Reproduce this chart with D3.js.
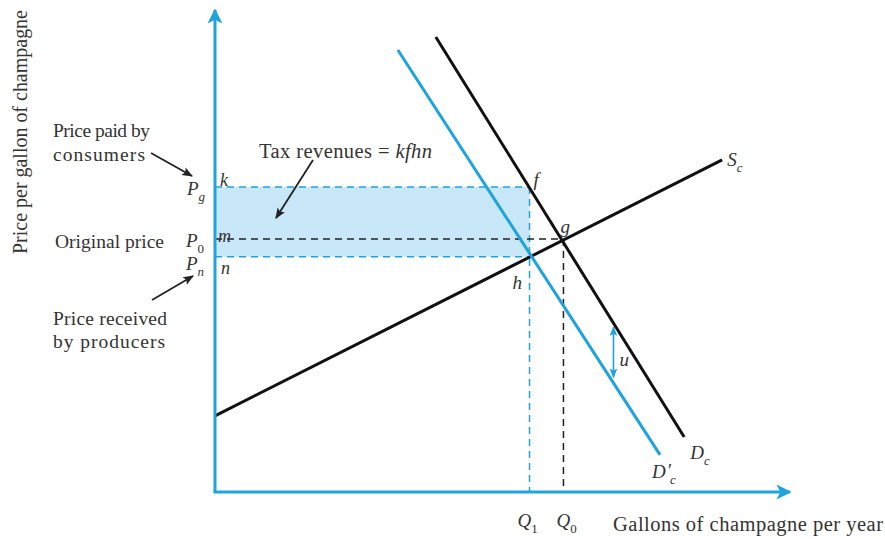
<html>
<script src="https://d3js.org/d3.v7.min.js"></script>
<style>
body { margin: 0; background: #fff; }
</style>
<body>
<svg id="chart"></svg>
<script>
// curves as two end points (quantity, price) in chart units 0..100
var supply = [{q: 0, p: 15.8}, {q: 88.2, p: 68.9}];
var demand = [{q: 38.4, p: 94.4}, {q: 81.6, p: 11.4}];
var demandTax = [{q: 31.8, p: 91.7}, {q: 77.4, p: 7.7}];

// price and quantity levels
var priceLevels = {Pg: 63.3, P0: 52.5, Pn: 48.8};
var qtyLevels = {Q1: 54.7, Q0: 60.6};
var taxArrow = {q: 69.3, top: 34.2, bottom: 23.8};

const width = 885, height = 539;
const blue = "#1ea3df";
const fillBlue = "#c8e7f8";
const serif = "'Liberation Serif', 'Times New Roman', 'DejaVu Serif', serif";

const svg = d3.select("#chart").attr("width", width).attr("height", height)
    .attr("font-family", serif);

const x = d3.scaleLinear().domain([0, 100]).range([215, 790]);
const y = d3.scaleLinear().domain([0, 100]).range([492, 10]);

// markers
const defs = svg.append("defs");
defs.append("marker").attr("id", "axisHead")
    .attr("viewBox", "0 0 10 10").attr("refX", 9).attr("refY", 5)
    .attr("markerWidth", 5.5).attr("markerHeight", 5).attr("orient", "auto")
    .attr("markerUnits", "strokeWidth")
    .append("path").attr("d", "M0,0 L10,5 L0,10 L2.5,5 Z").attr("fill", blue);
defs.append("marker").attr("id", "blackHead")
    .attr("viewBox", "0 0 10 10").attr("refX", 9).attr("refY", 5)
    .attr("markerWidth", 7).attr("markerHeight", 6).attr("orient", "auto")
    .attr("markerUnits", "strokeWidth")
    .append("path").attr("d", "M0,1 L10,5 L0,9 L2,5 Z").attr("fill", "#222");
defs.append("marker").attr("id", "blueHead")
    .attr("viewBox", "0 0 10 10").attr("refX", 9).attr("refY", 5)
    .attr("markerWidth", 6).attr("markerHeight", 6).attr("orient", "auto-start-reverse")
    .attr("markerUnits", "strokeWidth")
    .append("path").attr("d", "M0,1 L10,5 L0,9 L2,5 Z").attr("fill", blue);

// tax revenue rectangle
svg.append("rect")
    .attr("x", x(0)).attr("y", y(priceLevels.Pg))
    .attr("width", x(qtyLevels.Q1) - x(0))
    .attr("height", y(priceLevels.Pn) - y(priceLevels.Pg))
    .attr("fill", fillBlue);

// dashed guides
function dash(x1, y1, x2, y2, col) {
    svg.append("line").attr("x1", x1).attr("y1", y1).attr("x2", x2).attr("y2", y2)
        .attr("stroke", col).attr("stroke-width", 1.5).attr("stroke-dasharray", "7,5");
}
dash(x(0), y(priceLevels.Pg), x(qtyLevels.Q1), y(priceLevels.Pg), blue);
dash(x(0), y(priceLevels.Pn), x(qtyLevels.Q1), y(priceLevels.Pn), blue);
dash(x(qtyLevels.Q1), y(priceLevels.Pg), x(qtyLevels.Q1), y(0), blue);
dash(x(0), y(priceLevels.P0), x(qtyLevels.Q0), y(priceLevels.P0), "#222");
dash(x(qtyLevels.Q0), y(priceLevels.P0), x(qtyLevels.Q0), y(0), "#222");

// curves
const line = d3.line().x(d => x(d.q)).y(d => y(d.p));
svg.append("path").datum(supply).attr("d", line)
    .attr("stroke", "#111").attr("stroke-width", 3).attr("fill", "none");
svg.append("path").datum(demand).attr("d", line)
    .attr("stroke", "#111").attr("stroke-width", 3).attr("fill", "none");
svg.append("path").datum(demandTax).attr("d", line)
    .attr("stroke", blue).attr("stroke-width", 3).attr("fill", "none");

// axes with arrows
svg.append("line").attr("x1", x(0)).attr("y1", y(0)).attr("x2", x(0)).attr("y2", y(100))
    .attr("stroke", blue).attr("stroke-width", 3).attr("marker-end", "url(#axisHead)");
svg.append("line").attr("x1", x(0) - 1.5).attr("y1", y(0)).attr("x2", x(100)).attr("y2", y(0))
    .attr("stroke", blue).attr("stroke-width", 3).attr("marker-end", "url(#axisHead)");

// tax wedge arrow u
svg.append("line")
    .attr("x1", x(taxArrow.q)).attr("y1", y(taxArrow.top))
    .attr("x2", x(taxArrow.q)).attr("y2", y(taxArrow.bottom))
    .attr("stroke", blue).attr("stroke-width", 1.6)
    .attr("marker-start", "url(#blueHead)").attr("marker-end", "url(#blueHead)");

// annotation arrows
function arrow(x1, y1, x2, y2) {
    svg.append("line").attr("x1", x1).attr("y1", y1).attr("x2", x2).attr("y2", y2)
        .attr("stroke", "#222").attr("stroke-width", 1.8).attr("marker-end", "url(#blackHead)");
}
arrow(151, 153, 192, 176);
arrow(152, 300, 193, 276);
arrow(313, 160, 276, 218);

// text helpers
function label(tx, ty, str, italic, size, len) {
    const t = svg.append("text").attr("x", tx).attr("y", ty)
        .attr("fill", "#333").attr("font-style", italic ? "italic" : null)
        .attr("font-size", (size || 19) + "px").text(str);
    if (len) t.attr("textLength", len).attr("lengthAdjust", "spacing");
    return t;
}
function sub(tx, ty, main, s, prime, subItalic) {
    const t = svg.append("text").attr("x", tx).attr("y", ty).attr("fill", "#333")
        .attr("font-style", "italic").attr("font-size", "19px");
    t.append("tspan").text(main);
    if (prime) t.append("tspan").text("\u2032").attr("dx", 1).attr("dy", -1);
    t.append("tspan").text(s).attr("dy", prime ? 7 : 6).attr("dx", prime ? -1 : 0)
        .attr("font-size", "13px").attr("font-style", subItalic ? "italic" : "normal");
    return t;
}

// y axis title
svg.append("text").attr("transform", "translate(27," + 132 + ") rotate(-90)")
    .attr("text-anchor", "middle").attr("font-size", "20px").attr("fill", "#333")
    .attr("textLength", 244).attr("lengthAdjust", "spacing")
    .text("Price per gallon of champagne");

// left annotations
label(53, 137, "Price paid by", false, 19.5, 97);
label(53, 161, "consumers", false, 19.5, 92);
label(55, 248, "Original price", false, 19.5, 109);
label(53, 325, "Price received", false, 19.5, 114);
label(53, 348, "by producers", false, 19.5, 112);

sub(187, y(priceLevels.Pg) + 8, "P", "g", false, true);
sub(186, y(priceLevels.P0) + 8, "P", "0");
sub(186, y(priceLevels.Pn) + 13, "P", "n", false, true);

label(x(0) + 5, y(priceLevels.Pg) - 1, "k", true, 18);
label(x(0) + 3, y(priceLevels.P0) + 3, "m", true, 18);
label(x(0) + 6, y(priceLevels.Pn) + 17, "n", true, 18);

const tax = label(259, 158, "Tax revenues = ", false, 20.5);
tax.append("tspan").attr("font-style", "italic").text("kfhn");
tax.attr("textLength", 173).attr("lengthAdjust", "spacing");

// point labels
label(x(qtyLevels.Q1) + 4, y(priceLevels.Pg) - 1, "f", true, 19);
label(x(qtyLevels.Q0) - 3, y(priceLevels.P0) - 6, "g", true, 19);
label(x(qtyLevels.Q1) - 17, y(priceLevels.Pn) + 32, "h", true, 19);
label(x(taxArrow.q) + 6, y(taxArrow.bottom) - 11, "u", true, 19);

sub(x(supply[1].q) + 5, y(supply[1].p) + 6, "S", "c", false, true);
sub(x(demand[1].q) + 6, y(demand[1].p) + 22, "D", "c", false, true);
sub(x(demandTax[1].q) - 8, y(demandTax[1].p) + 23, "D", "c", true, true);

sub(x(qtyLevels.Q1) - 12, 527, "Q", "1");
sub(x(qtyLevels.Q0) - 7, 527, "Q", "0");

label(613, 531, "Gallons of champagne per year", false, 20.5, 270);
</script>
</body>
</html>
